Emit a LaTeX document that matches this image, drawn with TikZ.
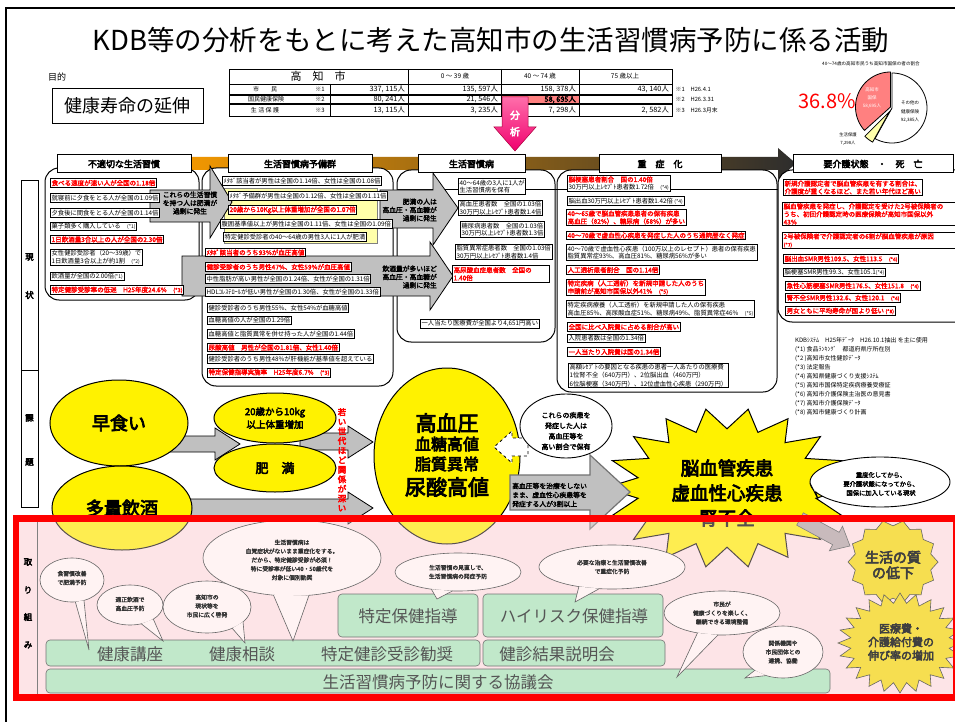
\documentclass[tikz,border=0pt]{standalone}
\usepackage{fontspec}
\setmainfont{Noto Sans CJK JP}
\newfontfamily\jpb{Noto Sans CJK JP}[FakeBold=2.5]
\newfontfamily\jpbb{Noto Sans CJK JP}[FakeBold=4]
\usetikzlibrary{shapes.geometric}
\newcommand\fsz[2]{\fontsize{#1pt}{#2pt}\selectfont}
\definecolor{pinkbg}{RGB}{253,228,231}
\definecolor{grn}{RGB}{193,232,202}
\definecolor{arrgray}{RGB}{192,192,192}
\definecolor{bandA}{RGB}{243,152,0}
\definecolor{bandB}{RGB}{155,100,45}
\definecolor{bandC}{RGB}{45,45,45}
\definecolor{pierose}{RGB}{255,128,128}
\definecolor{magA}{RGB}{255,110,170}
\definecolor{magB}{RGB}{240,0,110}
\definecolor{bubfill}{RGB}{255,243,243}
\definecolor{txtgray}{RGB}{85,85,85}
\definecolor{paleyel}{RGB}{255,255,170}
\definecolor{goldyel}{RGB}{246,222,80}
\newcommand\mystar[8]{%
 \path[#1] plot[samples=#7, domain=0:#6, variable=\k] ({#2+#4*(1-(1-#8)*(1-cos(\k*180))/2)*cos(\k*(360/#6))}, {#3-#5*(1-(1-#8)*(1-cos(\k*180))/2)*sin(\k*(360/#6))}) -- cycle;}
\newcommand\mybubble[8]{%
 \path[#1] (#2,#3) ellipse [x radius=#4, y radius=#5];
 \fill[#1, draw=none] ({#2+#4*cos(#6)},{#3-#5*sin(#6)}) -- #8 -- ({#2+#4*cos(#7)},{#3-#5*sin(#7)}) -- cycle;
 \draw[#1, fill=none] ({#2+#4*cos(#6)},{#3-#5*sin(#6)}) -- #8 -- ({#2+#4*cos(#7)},{#3-#5*sin(#7)});}
\tikzset{
 bx/.style={draw, line width=0.9pt, fill=white, inner sep=1.2pt, anchor=west, align=left, font=\fsz{6.3}{7.6}},
 rbx/.style={bx, text=red, font=\fsz{6.5}{7.8}\jpb},
 hdr/.style={draw, line width=1pt, fill=white, minimum height=18pt, inner sep=0pt, font=\fsz{9}{10}\jpbb},
 colrect/.style={draw, line width=1pt, rounded corners=14pt, fill=white},
 garr/.style={draw, line width=0.8pt, fill=arrgray},
 yell/.style={draw, line width=1pt, fill=yellow},
 wbub/.style={draw, line width=0.9pt, fill=white},
 bub/.style={draw=black!60, line width=0.6pt, fill=bubfill},
 bubtext/.style={font=\fsz{5.8}{8.8}\jpb, align=center, text=black!80},
 gbox/.style={draw=black!55, line width=0.6pt, fill=grn, rounded corners=4pt},
 gtext/.style={font=\fsz{16.5}{18}, text=txtgray},
 tnum/.style={font=\fsz{7.3}{8}, anchor=east, inner sep=1pt},
 tlab/.style={font=\fsz{6}{7}, inner sep=0.5pt},
 tnote/.style={font=\fsz{5.8}{7}, anchor=west, inner sep=0.5pt},
 arrtext/.style={font=\fsz{6.8}{8.3}\jpb, inner sep=0pt},
 sidelab/.style={font=\fsz{8.5}{9}\jpbb, inner sep=0pt},
}
\begin{document}
\begin{tikzpicture}[x=1pt,y=-1pt]
\useasboundingbox (0,0) rectangle (955,722);
\fill[white] (0,0) rectangle (955,722);
\draw[line width=2.5pt] (6,722) -- (6,8) -- (956,8);

% ---------- title and aim
\node[font=\fsz{27.5}{29}] (title) at (491,40) {KDB等の分析をもとに考えた高知市の生活習慣病予防に係る活動};
\node[font=\fsz{9}{10}] (aim) at (57,77) {目的};
\node[draw, line width=0.9pt, minimum width=151pt, minimum height=35pt, font=\fsz{18}{20}] (goal) at (127.5,106) {健康寿命の延伸};

% ---------- table
\fill[pierose] (501,95) rectangle (579,104);
\draw[line width=0.9pt] (229,69) rectangle (672,116);
\draw[line width=0.9pt] (229,84) -- (672,84);
\draw[line width=1.6pt] (229,95) -- (672,95);
\draw[line width=1.6pt] (229,104) -- (672,104);
\draw[line width=0.9pt] (408,69) -- (408,116) (501,69) -- (501,116) (579,69) -- (579,116) (330,84) -- (330,116);
\node[font=\fsz{11}{12}] (tk) at (318,76.5) {高　知　市};
\node[font=\fsz{6.5}{7}] (t0) at (455,76.5) {0 ～ 39 歳};
\node[font=\fsz{6.5}{7}] (t40) at (540,76.5) {40 ～ 74 歳};
\node[font=\fsz{6.5}{7}] (t75) at (625,76.5) {75 歳以上};
\node[tlab] (ra) at (265,89.5) {市　　民};
\node[tlab] (rb) at (266,99.5) {国民健康保険};
\node[tlab] (rc) at (265,110) {生 活 保 護};
\node[tlab] (ran) at (320,89.5) {※1};
\node[tlab] (rbn) at (320,99.5) {※2};
\node[tlab] (rcn) at (320,110) {※3};
\node[tnum] (n11) at (406,89.5) {337, 115人};
\node[tnum] (n12) at (499,89.5) {135, 597人};
\node[tnum] (n13) at (577,89.5) {158, 378人};
\node[tnum] (n14) at (670,89.5) {43, 140人};
\node[tnum] (n21) at (406,99.5) {80, 241人};
\node[tnum] (n22) at (499,99.5) {21, 546人};
\node[tnum, font=\fsz{7.3}{8}\jpbb] (n23) at (577,99.5) {58, 695人};
\node[tnum] (n31) at (406,110) {13, 115人};
\node[tnum] (n32) at (499,110) {3, 235人};
\node[tnum] (n33) at (577,110) {7, 298人};
\node[tnum] (n34) at (670,110) {2, 582人};
\node[tnote] (m1) at (675,89.5) {※1　H26.4.1};
\node[tnote] (m2) at (675,99.5) {※2　H26.3.31};
\node[tnote] (m3) at (675,110) {※3　H26.3月末};

% ---------- analysis arrow
\shade[top color=magA, bottom color=magB, draw={rgb,255:red,170;green,0;blue,60}, line width=0.5pt]
 (502,97) -- (528,97) -- (528,127) -- (536,127) -- (515,151) -- (494,127) -- (502,127) -- cycle;
\node[font=\fsz{10}{16.5}\jpbb, text=white, align=center] (bunseki) at (515,123.5) {分\\析};

% ---------- pie chart
\node[font=\fsz{4.6}{5}] (pietitle) at (871,64) {40～74歳の高知市民うち高知市国保の者の割合};
\node[font=\fsz{20}{21}, text=red] (pct) at (827,101) {36.8\%};
\filldraw[fill=white, line width=0.8pt] (892,108) -- plot[domain=241:450, samples=60] ({892+35*cos(\x)},{108-35*sin(\x)}) -- cycle;
\filldraw[fill=pierose, line width=0.8pt] (890.5,107) -- plot[domain=90:222, samples=40] ({890.5+35*cos(\x)},{107-35*sin(\x)}) -- cycle;
\filldraw[fill=paleyel, line width=0.8pt] (889.6,111.5) -- plot[domain=225:241, samples=8] ({889.6+35*cos(\x)},{111.5-35*sin(\x)}) -- cycle;
\node[font=\fsz{4.5}{8}, text=white, align=center] (pk) at (872,98) {高知市\\国保\\58,695人};
\node[font=\fsz{4.5}{8.5}, align=center] (pw) at (910,112) {その他の\\健康保険\\92,385人};
\node[font=\fsz{4.3}{8.5}, align=center] (py) at (848,139) {生活保護\\7,298人};

% ---------- header band
\shade[left color=bandA, middle color=bandB, right color=bandC] (185,157) -- (778,157) -- (778,148) -- (796,163.5) -- (778,179) -- (778,170) -- (185,170) -- cycle;

% ---------- left row labels
\draw[line width=0.8pt] (21,180) rectangle (38,370);
\draw[line width=0.8pt] (21,370) rectangle (38,507);
\node[sidelab] (gen) at (29.5,257) {現};
\node[sidelab] (jou) at (29.5,295) {状};
\node[sidelab] (ka) at (29.5,418) {課};
\node[sidelab] (dai) at (29.5,462) {題};

% ---------- column frames
\draw[colrect] (45,168) rectangle (199,300);
\draw[colrect] (202,168) rectangle (393,386);
\draw[colrect] (397,170) rectangle (555,342);
\draw[colrect] (557,170) rectangle (777,392);
\draw[colrect] (778,170) rectangle (975,322);
\draw[line width=0.6pt] (397,189) -- (778,189);
\node[hdr, minimum width=134pt] (h1) at (124,164) {不適切な生活習慣};
\node[hdr, minimum width=144pt] (h2) at (300,164) {生活習慣病予備群};
\node[hdr, minimum width=107pt] (h3) at (471.5,164) {生活習慣病};
\node[hdr, minimum width=122pt] (h4) at (660,164) {重　症　化};
\node[hdr, minimum width=160pt] (h5) at (873,164) {要介護状態　・　死　亡};

% ---------- arrows between columns
\draw[fill=paleyel, draw=black!50, line width=0.6pt] (224,188) rectangle (377,243);
\draw[garr] (150,190) -- (210,190) -- (210,166) -- (232,202) -- (210,238) -- (210,222) -- (150,222) -- cycle;
\node[arrtext, align=center] (a1t) at (190,203) {これらの生活習慣\\を持つ人は肥満が\\過剰に発生};
\draw[garr] (380,190) -- (433,190) -- (433,173) -- (458,208) -- (433,245) -- (433,228) -- (380,228) -- cycle;
\node[arrtext, align=right, anchor=east] (a2t) at (437,210) {肥満の人は\\高血圧・高血糖が\\過剰に発生};
\draw[garr] (182,256) -- (430,256) -- (430,242) -- (453,276) -- (430,310) -- (430,296) -- (182,296) -- cycle;
\node[arrtext, align=right, anchor=east] (a3t) at (437,277) {飲酒量が多いほど\\高血圧・高血糖が\\過剰に発生};

% ---------- column 1
\node[rbx] (c1a) at (50,183) {食べる速度が速い人が全国の1.18倍};
\node[bx] (c1b) at (50,198) {就寝前に夕食をとる人が全国の1.09倍};
\node[bx] (c1c) at (50,213) {夕食後に間食をとる人が全国の1.14倍};
\node[bx] (c1d) at (50,226.5) {菓子類多く購入している　{\fsz{5}{6}(*1)}};
\node[rbx] (c1e) at (50,239.5) {1日飲酒量3合以上の人が全国の2.30倍};
\node[bx] (c1f) at (50,257.5) {女性健診受診者（20～39歳）で\\1日飲酒量3合以上が約1割　{\fsz{5}{6}(*2)}};
\node[bx] (c1g) at (50,276.5) {飲酒量が全国の2.00倍{\fsz{5}{6}(*1)}};
\node[rbx] (c1h) at (50,290) {特定健診受診率の低迷　H25年度24.6\%　{\fsz{5.5}{6}(*3)}};

% ---------- column 2
\node[bx] (c2a) at (222,181) {ﾒﾀﾎﾞ該当者が男性は全国の1.14倍、女性は全国の1.08倍};
\node[bx] (c2b) at (228,196) {ﾒﾀﾎﾞ予備群が男性は全国の1.12倍、女性は全国の1.11倍};
\node[rbx] (c2c) at (228,210) {20歳から10Kg以上体重増加が全国の1.07倍};
\node[bx] (c2d) at (220,224) {腹囲基準値以上が男性は全国の1.11倍、女性は全国の1.09倍};
\node[bx] (c2e) at (223,237) {特定健診受診者の40～64歳の男性3人に1人が肥満};
\node[rbx] (c2f) at (205,252.5) {ﾒﾀﾎﾞ該当者のうち93\%が血圧高値};
\node[rbx] (c2g) at (205,267) {健診受診者のうち男性47\%、女性59\%が血圧高値};
\node[bx] (c2h) at (205,279) {中性脂肪が高い男性が全国の1.24倍、女性が全国の1.31倍};
\node[bx] (c2i) at (205,292) {HDLｺﾚｽﾃﾛｰﾙが低い男性が全国の1.30倍、女性が全国の1.33倍};
\node[bx] (c2j) at (207,308) {健診受診者のうち男性55\%、女性54\%が血糖高値};
\node[bx] (c2k) at (207,320.5) {血糖高値の人が全国の1.29倍};
\node[bx] (c2l) at (207,334) {血糖高値と脂質異常を併せ持った人が全国の1.44倍};
\node[rbx] (c2m) at (207,347.5) {尿酸高値　男性が全国の1.81倍、女性1.40倍};
\node[bx] (c2n) at (207,359) {健診受診者のうち男性48\%が肝機能が基準値を超えている};
\node[rbx] (c2o) at (207,372.5) {特定保健指導実施率　H25年度6.7\%　{\fsz{5.5}{6}(*3)}};

% ---------- column 3
\node[bx] (c3a) at (458,186.5) {40～64歳の3人に1人が\\生活習慣病を保有};
\node[bx] (c3b) at (458,208) {高血圧患者数　全国の1.03倍\\30万円以上ﾚｾﾌﾟﾄ患者数1.4倍};
\node[bx] (c3c) at (460,229.5) {糖尿病患者数　全国の1.03倍\\30万円以上ﾚｾﾌﾟﾄ患者数1.3倍};
\node[bx] (c3d) at (455,252) {脂質異常症患者数　全国の1.03倍\\30万円以上ﾚｾﾌﾟﾄ患者数1.4倍};
\node[rbx, text width=95pt] (c3e) at (452,274) {高尿酸血症患者数　全国の\\1.40倍};
\node[bx] (c3f) at (420,323.5) {一人当たり医療費が全国より4,651円高い};

% ---------- column 4
\node[bx] (c4a) at (567,183.5) {{\color{red}\jpb\fsz{6.5}{7.8}脳梗塞患者割合　国の1.40倍}\\30万円以上ﾚｾﾌﾟﾄ患者数1.72倍　{\fsz{5}{6}(*4)}};
\node[bx] (c4b) at (567,201) {脳出血30万円以上ﾚｾﾌﾟﾄ患者数1.42倍 {\fsz{5}{6}(*4)}};
\node[rbx] (c4c) at (566,217.5) {40～65歳で脳血管疾患患者の保有疾患\\高血圧（82\%）、糖尿病（68\%）が多い};
\node[rbx] (c4d) at (566,235.5) {40～70歳で虚血性心疾患を発症した人のうち通院歴なく発症};
\node[bx] (c4e) at (566,252.5) {40～70歳で虚血性心疾患（100万以上のレセプト）患者の保有疾患\\脂質異常症93\%、高血圧81\%、糖尿病56\%が多い};
\node[rbx] (c4f) at (566,270) {人工透析患者割合　国の1.14倍};
\node[rbx] (c4g) at (566,287.5) {特定疾病（人工透析）を新規申請した人のうち\\申請前が高知市国保以外41\%　{\fsz{5.5}{6}(*5)}};
\node[bx] (c4h) at (566,309) {特定疾病療養（人工透析）を新規申請した人の保有疾患\\高血圧85\%、高尿酸血症51\%、糖尿病49\%、脂質異常症46\%　{\fsz{5}{6}(*5)}};
\node[rbx] (c4i) at (567,327) {全国に比べ入院費に占める割合が高い};
\node[bx] (c4j) at (567,338.5) {入院患者数は全国の1.34倍};
\node[rbx] (c4k) at (567,352) {一人当たり入院費は国の1.34倍};
\node[bx, font=\fsz{6.3}{8.2}] (c4l) at (568,375.5) {高額ﾚｾﾌﾟﾄの要因となる疾患の患者一人あたりの医療費\\1位腎不全（640万円）、2位脳出血（460万円）\\6位脳梗塞（340万円）、12位虚血性心疾患（290万円）};

% ---------- column 5
\node[rbx] (c5a) at (783,187.5) {新規介護認定者で脳血管疾患を有する割合は、\\介護度が重くなるほど、また若い年代ほど高い};
\node[rbx, text width=175pt] (c5b) at (782,214) {脳血管疾患を発症し、介護認定を受けた2号被保険者の\\うち、初回介護認定時の医療保険が高知市国保以外\\43\%};
\node[rbx, text width=175pt] (c5c) at (782,240.5) {2号被保険者で介護認定者の6割が脳血管疾患が原因\\{\fsz{5}{6}(*7)}};
\node[rbx] (c5d) at (783,259) {脳出血SMR男性109.5、女性113.5　{\fsz{5}{6}(*4)}};
\node[bx] (c5e) at (783,272.5) {脳梗塞SMR男性99.3、女性105.1{\fsz{5}{6}(*4)}};
\node[rbx] (c5f) at (785,286) {急性心筋梗塞SMR男性176.5、女性151.8　{\fsz{5}{6}(*4)}};
\node[rbx] (c5g) at (785,298) {腎不全SMR男性132.6、女性120.1　{\fsz{5}{6}(*4)}};
\node[rbx] (c5h) at (785,311) {男女ともに平均寿命が国より低い {\fsz{5}{6}(*8)}};

\node[font=\fsz{6}{8.9}, align=left, anchor=north west, inner sep=0pt] (refs) at (795,337.5) {KDBｼｽﾃﾑ　H25年ﾃﾞｰﾀ　H26.10.1抽出 を主に使用\\(*1) 食品ﾗﾝｷﾝｸﾞ　都道府県庁所在別\\(*2 )高知市女性健診ﾃﾞｰﾀ\\(*3) 法定報告\\(*4) 高知県健康づくり支援ｼｽﾃﾑ\\(*5) 高知市国保特定疾病療養受療証\\(*6) 高知市介護保険主治医の意見書\\(*7) 高知市介護保険ﾃﾞｰﾀ\\(*8) 高知市健康づくり計画};

% ---------- pink region background
\fill[pinkbg] (16,518) rectangle (955,697);

% ---------- issues section
\draw[garr] (165,436) -- (215,436) -- (215,428) -- (240,444) -- (215,460) -- (215,452) -- (165,452) -- cycle;
\draw[garr] (300,433) -- (348,433) -- (348,426) -- (373,442) -- (348,458) -- (348,450) -- (300,450) -- cycle;
\draw[garr] (185,499) -- (348,499) -- (348,492) -- (373,508) -- (348,524) -- (348,516) -- (185,516) -- cycle;
\node[text=red, font=\fsz{8.5}{9.6}\jpbb, align=center, anchor=north, inner sep=0pt] (young) at (342,408) {若\\い\\世\\代\\ほ\\ど\\関\\係\\が\\深\\い};

\draw[yell] (119,423) ellipse [x radius=69, y radius=43];
\node[font=\fsz{18}{20}\jpbb] (hayagui) at (119,423) {早食い};
\draw[yell] (122,508) ellipse [x radius=70, y radius=42];
\node[font=\fsz{18}{20}\jpbb] (inshu) at (122,508) {多量飲酒};
\draw[yell] (275,418) ellipse [x radius=61, y radius=25];
\node[font=\fsz{9.5}{13}\jpbb, align=center] (weight) at (275,418) {20歳から10kg\\以上体重増加};
\draw[yell] (275,468) ellipse [x radius=61, y radius=24];
\node[font=\fsz{13}{14}\jpbb] (himan) at (275,468) {肥　満};
\draw[yell] (447,456) ellipse [x radius=73, y radius=88];
\node[font=\fsz{21}{22}\jpbb] (kbp) at (447,423) {高血圧};
\node[font=\fsz{16}{17}\jpbb] (kbs) at (447,444) {血糖高値};
\node[font=\fsz{16}{17}\jpbb] (shishitsu) at (447,464) {脂質異常};
\node[font=\fsz{21}{22}\jpbb] (nyosan) at (447,487) {尿酸高値};

\mystar{yell}{727}{488}{122}{80}{36}{37}{0.74}
\node[font=\fsz{18.5}{25}\jpbb, align=center] (stroke) at (727,493) {脳血管疾患\\虚血性心疾患\\腎不全};

\draw[draw=black!55, line width=1.2pt, fill=arrgray] (510,475) -- (590,475) -- (590,455) -- (630,492) -- (590,529) -- (590,510) -- (510,510) -- cycle;
\node[font=\fsz{6.8}{9}\jpb, align=left, anchor=west, inner sep=0pt] (notreat) at (512,495) {高血圧等を治療をしない\\まま、虚血性心疾患等を\\発症する人が3割以上};

\draw[dashed, line width=0.8pt, fill=white] (528,438) -- (512,438) -- (512,431) -- (494,447) -- (512,463) -- (512,456) -- (528,456) -- cycle;
\path[wbub] (566,426) ellipse [x radius=46, y radius=32];
\node[font=\fsz{7}{10.5}\jpb, align=center] (hold) at (566,431) {これらの疾患を\\発症した人は\\高血圧等を\\高い割合で保有};
\mybubble{wbub}{880}{482}{70}{25}{183}{203}{(818,499)}
\node[font=\fsz{6.3}{9}\jpb, align=center] (late) at (881,484) {重度化してから、\\要介護状態になってから、\\国保に加入している現状};

% ---------- tint of pink region
\fill[pinkbg, opacity=0.35] (16,518) rectangle (955,697);
\draw[black!50, line width=0.6pt] (37,522) -- (37,694);
\node[sidelab] (tori) at (28,562) {取};
\node[sidelab] (ri) at (28,590) {り};
\node[sidelab] (gumi) at (28,617) {組};
\node[sidelab] (mi) at (28,645) {み};

% ---------- actions
\draw[gbox] (46,669) rectangle (830,693);
\node[gtext] (kyogikai) at (438,682) {生活習慣病予防に関する協議会};
\draw[gbox] (46,640) rectangle (480,666);
\node[gtext] (koza) at (130,654) {健康講座};
\node[gtext] (sodan) at (242,654) {健康相談};
\node[gtext] (kansho) at (387,654) {特定健診受診勧奨};
\draw[gbox] (483,640) rectangle (665,666);
\node[gtext] (setsumei) at (557,654) {健診結果説明会};
\draw[gbox] (338,594) rectangle (478,637);
\node[gtext] (tokutei) at (408,616) {特定保健指導};
\draw[gbox] (483,594) rectangle (663,637);
\node[gtext] (highrisk) at (574,616) {ハイリスク保健指導};

\mybubble{bub}{72}{580}{32}{22}{276}{292}{(89,650)}
\node[bubtext] (b1) at (72,578) {食習慣改善\\で肥満予防};
\mybubble{bub}{130}{605}{33}{20}{290}{315}{(163,641)}
\node[bubtext] (b2) at (130,604) {適正飲酒で\\高血圧予防};
\mybubble{bub}{207}{607}{44}{26}{305}{325}{(245,643)}
\node[bubtext] (b3) at (207,606) {高知市の\\現状等を\\市民に広く啓発};
\mybubble{bub}{292}{558}{89}{38}{258}{281}{(293,641)}
\node[bubtext] (b4) at (292,560) {生活習慣病は\\自覚症状がないまま重症化をする。\\だから、特定健診受診が必須！\\特に受診率が低い40・50歳代を\\対象に個別勧奨};
\mybubble{bub}{458}{572}{63}{19}{245}{265}{(437,599)}
\node[bubtext] (b5) at (458,572) {生活習慣の見直しで、\\生活習慣病の発症予防};
\mybubble{bub}{612}{567}{73}{22}{243}{260}{(575,602)}
\node[bubtext] (b6) at (612,567) {必要な治療と生活習慣改善\\で重症化予防};
\mybubble{bub}{722}{613}{58}{22}{245}{266}{(677,677)}
\node[bubtext] (b7) at (722,613) {市民が\\健康づくりを楽しく、\\継続できる環境整備};
\mybubble{bub}{783}{652}{40}{26}{225}{245}{(745,678)}
\node[bubtext] (b8) at (783,652) {関係機関や\\市民団体との\\連携、協働};

\draw[draw=black!50, line width=0.6pt, fill={rgb,255:red,200;green,186;blue,188}] (796.7,525.2) -- (803.3,512.8) -- (839.2,532.3) -- (842.5,526.2) -- (850,546) -- (829.3,550.8) -- (832.6,544.7) -- cycle;
\mystar{draw=black!60, line width=0.6pt, fill=goldyel}{893}{562}{45}{42}{28}{29}{0.86}
\node[font=\fsz{14}{15.5}\jpbb, align=center, text=black!75] (qol) at (893,565) {生活の質\\の低下};
\mystar{draw=black!60, line width=0.6pt, fill=goldyel}{900}{643}{62}{50}{48}{49}{0.8}
\node[font=\fsz{11}{13.5}\jpbb, align=center, text=black!75] (cost) at (901,642) {医療費・\\介護給付費の\\伸び率の増加};

\draw[red, line width=6.5pt] (16,518.5) rectangle (956,697.5);
\end{tikzpicture}
\end{document}
